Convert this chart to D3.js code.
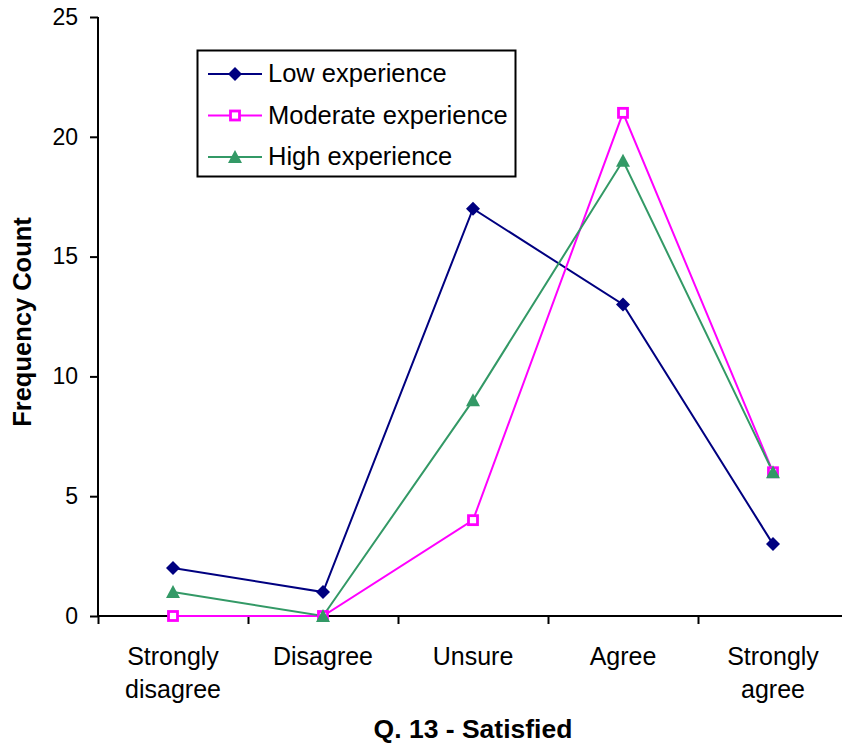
<!DOCTYPE html>
<html>
<head>
<meta charset="utf-8">
<script src="https://cdn.jsdelivr.net/npm/d3@7"></script>
<style>
  body { margin: 0; background: #fff; }
  text { font-family: Arial, "Liberation Sans", sans-serif; }
</style>
</head>
<body>
<script>
  // categories and series values
  let categories = ["Strongly disagree", "Disagree", "Unsure", "Agree", "Strongly agree"];
  let catLines = [["Strongly", "disagree"], ["Disagree"], ["Unsure"], ["Agree"], ["Strongly", "agree"]];
  let lowExp = [2, 1, 17, 13, 3];
  let modExp = [0, 0, 4, 21, 6];
  let highExp = [1, 0, 9, 19, 6];
  let yTicks = [0, 5, 10, 15, 20, 25];

  (function() {
    let series = [
      { name: "Low experience", values: lowExp, color: "#000080", marker: "diamond" },
      { name: "Moderate experience", values: modExp, color: "#ff00ff", marker: "square" },
      { name: "High experience", values: highExp, color: "#339966", marker: "triangle" }
    ];

    let svg = d3.select("body").append("svg")
      .attr("width", 842)
      .attr("height", 747);

    let plotLeft = 98, plotRight = 848, plotTop = 17, plotBottom = 616;

    let x = d3.scaleBand().domain(categories).range([plotLeft, plotRight]);
    let xPos = d3.scaleLinear().domain([0, 5]).range([plotLeft, plotRight]);
    let y = d3.scaleLinear().domain([0, 25]).range([plotBottom, plotTop]);

    // y axis
    let yAxis = svg.append("g")
      .attr("transform", "translate(" + plotLeft + ",0)")
      .call(d3.axisLeft(y).tickValues(yTicks).tickSize(8).tickPadding(12));
    yAxis.select(".domain").attr("stroke-width", 2).attr("d", "M0," + plotTop + "V" + plotBottom);
    yAxis.selectAll(".tick line").attr("stroke-width", 2);
    yAxis.selectAll("text").style("font-size", "23px").attr("fill", "#000");

    // x axis (ticks between categories)
    let xAxis = svg.append("g")
      .attr("transform", "translate(0," + plotBottom + ")")
      .call(d3.axisBottom(xPos).tickValues([0, 1, 2, 3, 4, 5]).tickSize(8).tickFormat(""));
    xAxis.select(".domain").attr("stroke-width", 2).attr("d", "M" + plotLeft + ",0H" + plotRight);
    xAxis.selectAll(".tick line").attr("stroke-width", 2);

    // category labels
    catLines.forEach((lines, i) => {
      let t = svg.append("text")
        .attr("x", x(categories[i]) + x.bandwidth() / 2)
        .attr("y", 665)
        .attr("text-anchor", "middle")
        .style("font-size", "25px");
      lines.forEach((l, j) => {
        t.append("tspan")
          .attr("x", x(categories[i]) + x.bandwidth() / 2)
          .attr("dy", j === 0 ? 0 : 33)
          .text(l);
      });
    });

    let cx = (d, i) => x(categories[i]) + x.bandwidth() / 2;

    function drawMarker(g, type, color) {
      if (type === "diamond") {
        g.append("path").attr("d", "M0,-7L7,0L0,7L-7,0Z").attr("fill", color);
      } else if (type === "square") {
        g.append("rect").attr("x", -4.5).attr("y", -4.5).attr("width", 9).attr("height", 9)
          .attr("fill", "#fff").attr("stroke", color).attr("stroke-width", 2.8);
      } else {
        g.append("path").attr("d", "M0,-7L7,6L-7,6Z").attr("fill", color);
      }
    }

    // lines and markers
    let line = d3.line().x(cx).y((d) => y(d));
    series.forEach((s) => {
      svg.append("path")
        .datum(s.values)
        .attr("d", line)
        .attr("fill", "none")
        .attr("stroke", s.color)
        .attr("stroke-width", 2);
    });
    series.forEach((s) => {
      s.values.forEach((v, i) => {
        let g = svg.append("g").attr("transform", "translate(" + cx(v, i) + "," + y(v) + ")");
        drawMarker(g, s.marker, s.color);
      });
    });

    // legend
    let legend = svg.append("g");
    legend.append("rect")
      .attr("x", 197.5).attr("y", 50.5).attr("width", 318).attr("height", 126)
      .attr("fill", "#fff").attr("stroke", "#000").attr("stroke-width", 2);
    series.forEach((s, i) => {
      let ly = 74 + i * 41.5;
      legend.append("line")
        .attr("x1", 208).attr("x2", 262).attr("y1", ly).attr("y2", ly)
        .attr("stroke", s.color).attr("stroke-width", 2);
      let g = legend.append("g").attr("transform", "translate(235," + ly + ")");
      drawMarker(g, s.marker, s.color);
      legend.append("text")
        .attr("x", 268).attr("y", ly + 8)
        .style("font-size", "25.5px")
        .text(s.name);
    });

    // axis titles
    svg.append("text")
      .attr("transform", "translate(31,322)rotate(-90)")
      .attr("text-anchor", "middle")
      .style("font-size", "25.5px")
      .style("font-weight", "bold")
      .text("Frequency Count");

    svg.append("text")
      .attr("x", 473)
      .attr("y", 738)
      .attr("text-anchor", "middle")
      .style("font-size", "26.5px")
      .style("font-weight", "bold")
      .text("Q. 13 - Satisfied");
  })();
</script>
</body>
</html>
